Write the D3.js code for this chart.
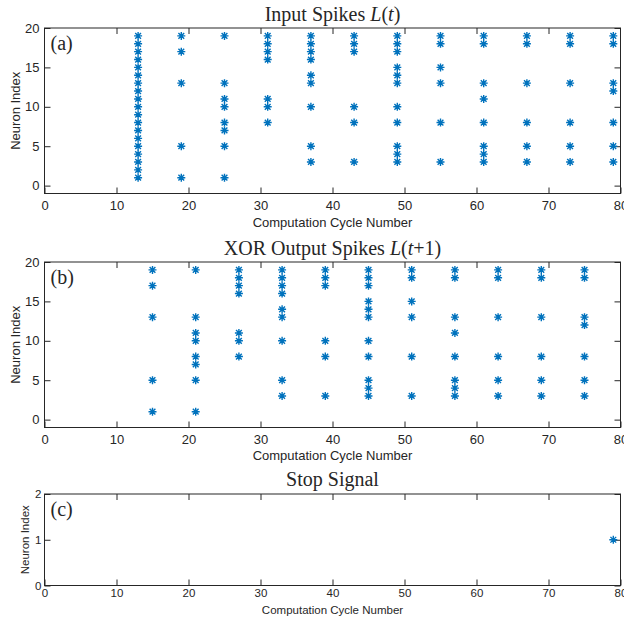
<!DOCTYPE html>
<html>
<head>
<meta charset="utf-8">
<script src="https://cdnjs.cloudflare.com/ajax/libs/d3/7.8.5/d3.min.js"></script>
<style>
  body { margin: 0; background: #fff; }
  svg { display: block; }
  .tick text { font-family: Arial, "Liberation Sans", sans-serif; fill: #262626; }
  .tick line { stroke: #262626; }
</style>
</head>
<body>
<svg id="chart" width="624" height="622"></svg>
<script>
/* data */
var inputCycles = [13, 19, 25, 31, 37, 43, 49, 55, 61, 67, 73, 79];
var inputNeurons = [
  [1, 2, 3, 4, 5, 6, 7, 8, 9, 10, 11, 12, 13, 14, 15, 16, 17, 18, 19],
  [1, 5, 13, 17, 19],
  [1, 5, 7, 8, 10, 11, 13, 19],
  [8, 10, 11, 16, 17, 18, 19],
  [3, 5, 10, 13, 14, 16, 17, 18, 19],
  [3, 8, 10, 17, 18, 19],
  [3, 4, 5, 8, 10, 13, 14, 15, 17, 18, 19],
  [3, 8, 13, 15, 18, 19],
  [3, 4, 5, 8, 11, 13, 18, 19],
  [3, 5, 8, 13, 18, 19],
  [3, 5, 8, 13, 18, 19],
  [3, 5, 8, 12, 13, 18, 19]
];

var xorCycles = [15, 21, 27, 33, 39, 45, 51, 57, 63, 69, 75];
var xorNeurons = [
  [1, 5, 13, 17, 19],
  [1, 5, 7, 8, 10, 11, 13, 19],
  [8, 10, 11, 16, 17, 18, 19],
  [3, 5, 10, 13, 14, 16, 17, 18, 19],
  [3, 8, 10, 17, 18, 19],
  [3, 4, 5, 8, 10, 13, 14, 15, 17, 18, 19],
  [3, 8, 13, 15, 18, 19],
  [3, 4, 5, 8, 11, 13, 18, 19],
  [3, 5, 8, 13, 18, 19],
  [3, 5, 8, 13, 18, 19],
  [3, 5, 8, 12, 13, 18, 19]
];

var stopCycles = [79];
var stopNeurons = [[1]];

var xTicks = [0, 10, 20, 30, 40, 50, 60, 70, 80];
var yTicksSpikes = [0, 5, 10, 15, 20];
var yTicksStop = [0, 1, 2];

var svg = d3.select('#chart');
var serif = '"Times New Roman", "Liberation Serif", serif';
var sans = 'Arial, "Liberation Sans", sans-serif';
var ink = '#262626';
var blue = '#0072BD';
var fmt = d3.format('d');

function toPoints(cycles, neurons) {
  var pts = [];
  cycles.forEach(function(c, i) {
    neurons[i].forEach(function(n) { pts.push({x: c, y: n}); });
  });
  return pts;
}

// MATLAB style '*' marker
function asterisk(r) {
  var d = r * 0.72;
  return 'M' + (-r) + ',0L' + r + ',0M0,' + (-r) + 'L0,' + r +
    'M' + (-d) + ',' + (-d) + 'L' + d + ',' + d +
    'M' + (-d) + ',' + d + 'L' + d + ',' + (-d);
}

function drawPanel(p) {
  var x = d3.scaleLinear().domain([0, 80]).range([p.left, p.right]);
  var y = d3.scaleLinear().domain(p.yDomain).range([p.bottom, p.top]);
  var g = svg.append('g');

  // inward ticks on all four sides
  g.append('g')
    .attr('transform', 'translate(0,' + p.bottom + ')')
    .call(d3.axisBottom(x).tickValues(xTicks).tickFormat(fmt).tickSizeInner(-6).tickSizeOuter(0).tickPadding(p.xPad))
    .call(function(a) { a.select('.domain').remove(); })
    .selectAll('text').style('font-size', p.tickFont + 'px');

  g.append('g')
    .attr('transform', 'translate(0,' + p.top + ')')
    .call(d3.axisTop(x).tickValues(xTicks.slice(1, -1)).tickSizeInner(-6).tickSizeOuter(0).tickFormat(''))
    .call(function(a) { a.select('.domain').remove(); });

  g.append('g')
    .attr('transform', 'translate(' + p.left + ',0)')
    .call(d3.axisLeft(y).tickValues(p.yTicks).tickFormat(fmt).tickSizeInner(-6).tickSizeOuter(0).tickPadding(p.yPad))
    .call(function(a) { a.select('.domain').remove(); })
    .selectAll('text').style('font-size', p.tickFont + 'px');

  g.append('g')
    .attr('transform', 'translate(' + p.right + ',0)')
    .call(d3.axisRight(y).tickValues(p.yTicks).tickSizeInner(-6).tickSizeOuter(0).tickFormat(''))
    .call(function(a) { a.select('.domain').remove(); });

  g.append('rect')
    .attr('x', p.left).attr('y', p.top)
    .attr('width', p.right - p.left).attr('height', p.bottom - p.top)
    .attr('fill', 'none').attr('stroke', ink).attr('stroke-width', 1);

  g.append('g').selectAll('path')
    .data(toPoints(p.cycles, p.neurons))
    .enter().append('path')
    .attr('d', asterisk(4))
    .attr('transform', function(d) { return 'translate(' + x(d.x) + ',' + y(d.y) + ')'; })
    .attr('stroke', blue).attr('stroke-width', 1.4).attr('fill', 'none');

  // title
  var t = g.append('text')
    .attr('x', (p.left + p.right) / 2).attr('y', p.titleY)
    .attr('text-anchor', 'middle')
    .style('font-family', serif).style('font-size', '20px').attr('fill', ink);
  p.title.forEach(function(part) {
    t.append('tspan').text(part[0]).style('font-style', part[1] ? 'italic' : 'normal');
  });

  g.append('text')
    .attr('x', p.left + 6).attr('y', p.top + 22)
    .style('font-family', serif).style('font-size', '20px').attr('fill', ink)
    .text(p.tag);

  g.append('text')
    .attr('x', (p.left + p.right) / 2).attr('y', p.xLabelY)
    .attr('text-anchor', 'middle')
    .style('font-family', sans).style('font-size', p.labelFont + 'px').attr('fill', ink)
    .text('Computation Cycle Number');

  g.append('text')
    .attr('transform', 'translate(' + p.yLabelX + ',' + (p.top + p.bottom) / 2 + ') rotate(-90)')
    .attr('text-anchor', 'middle')
    .style('font-family', sans).style('font-size', p.labelFont + 'px').attr('fill', ink)
    .text('Neuron Index');
}

drawPanel({
  left: 44.5, right: 620.5, top: 28, bottom: 193.5,
  yDomain: [-1, 20], yTicks: yTicksSpikes,
  cycles: inputCycles, neurons: inputNeurons,
  title: [['Input Spikes ', false], ['L', true], ['(', false], ['t', true], [')', false]],
  titleY: 21, tag: '(a)', xLabelY: 227, yLabelX: 20,
  tickFont: 13, labelFont: 13, xPad: 7, yPad: 5
});

drawPanel({
  left: 44.5, right: 620.5, top: 262, bottom: 427.5,
  yDomain: [-1, 20], yTicks: yTicksSpikes,
  cycles: xorCycles, neurons: xorNeurons,
  title: [['XOR Output Spikes ', false], ['L', true], ['(', false], ['t', true], ['+1)', false]],
  titleY: 255, tag: '(b)', xLabelY: 460, yLabelX: 20,
  tickFont: 13, labelFont: 13, xPad: 7, yPad: 5
});

drawPanel({
  left: 44.5, right: 620.5, top: 494, bottom: 585.5,
  yDomain: [0, 2], yTicks: yTicksStop,
  cycles: stopCycles, neurons: stopNeurons,
  title: [['Stop Signal', false]],
  titleY: 486, tag: '(c)', xLabelY: 614, yLabelX: 29,
  tickFont: 11.5, labelFont: 11.5, xPad: 3, yPad: 3
});
</script>
</body>
</html>
